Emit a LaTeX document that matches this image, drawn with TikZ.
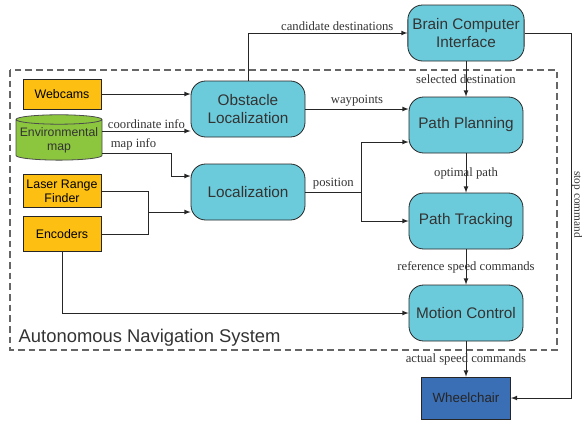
\documentclass[tikz,border=0pt]{standalone}
\usepackage{fontspec}
\setmainfont{Liberation Serif}
\setsansfont{Liberation Sans}
\usepackage{tikz}
\usepackage{xcolor}
\usetikzlibrary{shapes.geometric}

\definecolor{moduleteal}{HTML}{6CCBDB}
\definecolor{sensororange}{HTML}{FDBF12}
\definecolor{mapgreen}{HTML}{8CC63F}
\definecolor{chairblue}{HTML}{3A6EB5}
\definecolor{inkgray}{HTML}{333333}

\begin{document}
\begin{tikzpicture}[
    x=0.75pt, y=-0.75pt,
    module/.style={
        draw=black!85,
        line width=0.6pt,
        rounded corners=11pt,
        fill=moduleteal,
        minimum width=85.5pt,
        minimum height=42pt,
        align=center,
        text=inkgray,
        font=\sffamily\fontsize{11.5}{13}\selectfont
    },
    sensor/.style={
        draw=black!85,
        line width=0.6pt,
        fill=sensororange,
        minimum width=58.5pt,
        minimum height=24pt,
        align=center,
        inner sep=1pt,
        font=\sffamily\fontsize{9.3}{10.5}\selectfont
    },
    datastore/.style={
        draw=black!70,
        line width=0.6pt,
        cylinder,
        shape border rotate=90,
        aspect=0.12,
        fill=mapgreen,
        minimum width=64.5pt,
        minimum height=34pt,
        align=center,
        inner sep=0pt,
        text=inkgray,
        font=\sffamily\fontsize{9.2}{10.5}\selectfont
    },
    elabel/.style={
        text=inkgray,
        inner sep=1.5pt,
        font=\fontsize{9.5}{11}\selectfont
    },
    link/.style={draw=black!85, line width=0.6pt, -latex},
    branch/.style={draw=black!85, line width=0.6pt}
]
    \useasboundingbox (0,0) rectangle (582,422);

    % system frame
    \draw[black!60, dashed, line width=0.9pt, dash pattern=on 5pt off 3pt]
        (10,70) rectangle (557,350);
    \node[anchor=west, text=inkgray, font=\sffamily\fontsize{13.8}{15}\selectfont]
        (systemname) at (14,338) {Autonomous Navigation System};

    \node[module] (bci) at (466,33) {Brain Computer\\Interface};
    \node[module] (obstacle) at (248,109) {Obstacle\\Localization};
    \node[module] (localization) at (248,192) {Localization};
    \node[module] (planning) at (466,125) {Path Planning};
    \node[module] (tracking) at (466,221) {Path Tracking};
    \node[module] (motion) at (466,313) {Motion Control};
    \node[draw=black!85, line width=0.6pt, fill=chairblue,
          minimum width=66.75pt, minimum height=31.5pt,
          text=black!85, font=\sffamily\fontsize{10}{12}\selectfont]
        (wheelchair) at (466,398) {Wheelchair};

    \node[sensor, minimum height=22.5pt] (webcams) at (62,94) {Webcams};
    \node[datastore] (envmap) at (59,140) {Environmental\\map};
    \node[sensor, minimum height=24.75pt] (laser) at (62,191) {Laser Range\\Finder};
    \node[sensor, minimum height=26pt] (encoders) at (62,234) {Encoders};

    % inputs
    \draw[link] (webcams.east) -- (webcams.east -| obstacle.west);
    \coordinate (coordout) at ([yshift=6.75pt]envmap.east);
    \draw[link] (coordout) -- node[elabel, above] {coordinate info}
        (coordout -| obstacle.west);
    \coordinate (mapout) at ([yshift=-9.75pt]envmap.east);
    \draw[link] (mapout) -- ++(69,0) node[elabel, above, pos=0.45] {map info}
        |- ([yshift=12pt]localization.west);
    \draw[link] (laser.east) -- ++(47,0) |- ([yshift=-15pt]localization.west);
    \draw[branch] (encoders.east) -- ++(47,0) -- ++(0,-22);
    \draw[link] (encoders.south) |- (motion.west);

    % modules
    \draw[link] (obstacle.north) |- node[elabel, above, pos=0.78]
        {candidate destinations} (bci.west);
    \draw[link] (obstacle.east) -- node[elabel, above] {waypoints}
        (obstacle.east -| planning.west);
    \draw[branch] (localization.east) -- node[elabel, above] {position}
        ++(56,0) coordinate (posjoin);
    \draw[link] (posjoin) |- ([yshift=-12.75pt]planning.west);
    \draw[link] (posjoin) |- (tracking.west);
    \draw[link] (bci) -- node[elabel] {selected destination} (planning);
    \draw[link] (planning) -- node[elabel] {optimal path} (tracking);
    \draw[link] (tracking) -- node[elabel] {reference speed commands} (motion);
    \draw[link] (motion) -- node[elabel] {actual speed commands} (wheelchair);
    \draw[link] (bci.east) -- ++(47,0) |- node[elabel, rotate=-90, anchor=south,
        inner sep=0pt, font=\fontsize{8.5}{9}\selectfont, pos=0.235]
        {stop command} (wheelchair.east);
\end{tikzpicture}
\end{document}
